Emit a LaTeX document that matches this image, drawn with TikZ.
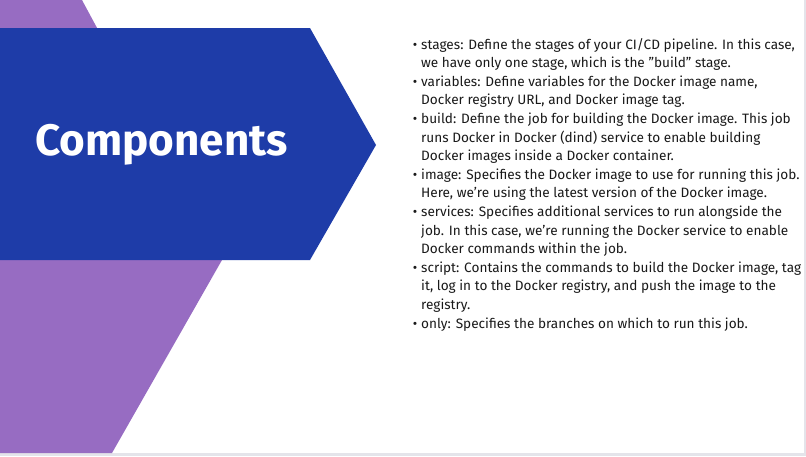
\documentclass[tikz,border=0pt]{standalone}
\usepackage{fontspec}
\setmainfont{Fira Sans}
\definecolor{purp}{HTML}{976CC2}
\definecolor{blu}{HTML}{1E3CA8}
\definecolor{edge}{HTML}{E4E4EA}
\newcommand{\bitem}{\makebox[0pt][r]{\textbullet\hspace{4pt}}}
\begin{document}
\begin{tikzpicture}[x=1pt,y=-1pt]
\useasboundingbox (0,0) rectangle (806,456);
\fill[edge] (0,0) rectangle (806,456);
\fill[white] (0,0) rectangle (804,453);
\fill[purp] (0,0) -- (82,0) -- (222,260) -- (112,453) -- (0,453) -- cycle;
\fill[blu] (0,28) -- (310,28) -- (376,145) -- (310,260) -- (0,260) -- cycle;
\node[anchor=west,text=white,font=\fontsize{44}{50}\selectfont\bfseries,inner sep=0] (title) at (35,145) {Components};
\node[anchor=north west,inner sep=0,align=left,font=\fontsize{13.6}{18.6}\selectfont,text=black!90] (body) at (421,38) {%
\bitem stages: Define the stages of your CI/CD pipeline. In this case,\\
we have only one stage, which is the "build" stage.\\
\bitem variables: Define variables for the Docker image name,\\
Docker registry URL, and Docker image tag.\\
\bitem build: Define the job for building the Docker image. This job\\
runs Docker in Docker (dind) service to enable building\\
Docker images inside a Docker container.\\
\bitem image: Specifies the Docker image to use for running this job.\\
Here, we're using the latest version of the Docker image.\\
\bitem services: Specifies additional services to run alongside the\\
job. In this case, we're running the Docker service to enable\\
Docker commands within the job.\\
\bitem script: Contains the commands to build the Docker image, tag\\
it, log in to the Docker registry, and push the image to the\\
registry.\\
\bitem only: Specifies the branches on which to run this job.};
\end{tikzpicture}
\end{document}
